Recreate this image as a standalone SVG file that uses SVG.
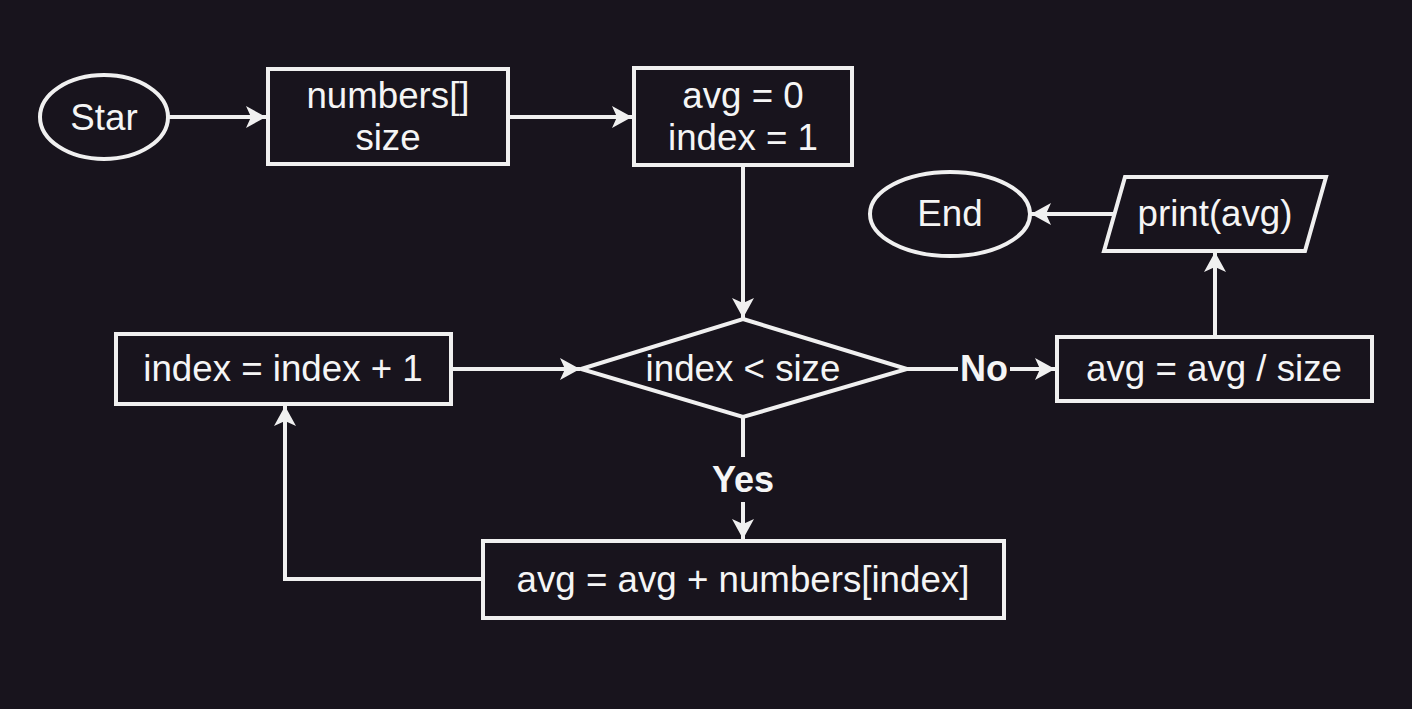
<svg xmlns="http://www.w3.org/2000/svg" width="1412" height="709" viewBox="0 0 1412 709">
<defs>
<marker id="arr" markerWidth="22" markerHeight="24" refX="20" refY="12" orient="auto" markerUnits="userSpaceOnUse">
<path d="M0,1 L20,12 L0,23 L5,12 Z" fill="#f0f0f0"/>
</marker>
<style>
.shape{fill:#18141d;stroke:#f0f0f0;stroke-width:4}
.edge{fill:none;stroke:#f0f0f0;stroke-width:4}
.t{font-family:"Liberation Sans",Arial,sans-serif;font-size:36.7px;fill:#f5f5f5;text-anchor:middle}
.b{font-weight:bold;font-size:36px}
</style>
</defs>
<rect width="1412" height="709" fill="#18141d"/>
<g id="connectors">
<path class="edge" d="M168,117 H266" marker-end="url(#arr)"/>
<path class="edge" d="M508,117 H632" marker-end="url(#arr)"/>
<path class="edge" d="M743,165 V318" marker-end="url(#arr)"/>
<path class="edge" d="M451,369 H580" marker-end="url(#arr)"/>
<path class="edge" d="M907,369 H958"/>
<path class="edge" d="M1010,369 H1055" marker-end="url(#arr)"/>
<path class="edge" d="M1215,337 V252" marker-end="url(#arr)"/>
<path class="edge" d="M1113,214 H1031" marker-end="url(#arr)"/>
<path class="edge" d="M743,417 V457"/>
<path class="edge" d="M743,502 V539" marker-end="url(#arr)"/>
<path class="edge" d="M483,579 H285 V406" marker-end="url(#arr)"/>
<text class="t b" x="984" y="381">No</text>
<text class="t b" x="743" y="492">Yes</text>
</g>
<g id="start">
<ellipse class="shape" cx="104" cy="117" rx="64" ry="42"/>
<text class="t" x="104" y="130">Star</text>
</g>
<g id="input">
<rect class="shape" x="268" y="69" width="240" height="95"/>
<text class="t" x="388" y="108">numbers[]</text>
<text class="t" x="388" y="150">size</text>
</g>
<g id="init">
<rect class="shape" x="634" y="68" width="218" height="97"/>
<text class="t" x="743" y="108">avg = 0</text>
<text class="t" x="743" y="150">index = 1</text>
</g>
<g id="cond">
<polygon class="shape" points="743,319 907,369 743,417 581,369"/>
<text class="t" x="743" y="381">index &lt; size</text>
</g>
<g id="incr">
<rect class="shape" x="116" y="334" width="335" height="70"/>
<text class="t" x="283" y="381">index = index + 1</text>
</g>
<g id="sum">
<rect class="shape" x="483" y="541" width="521" height="77"/>
<text class="t" x="743" y="592">avg = avg + numbers[index]</text>
</g>
<g id="divide">
<rect class="shape" x="1057" y="337" width="315" height="64"/>
<text class="t" x="1214" y="381">avg = avg / size</text>
</g>
<g id="print">
<polygon class="shape" points="1125,177 1326,177 1305,251 1104,251"/>
<text class="t" x="1215" y="226">print(avg)</text>
</g>
<g id="end">
<ellipse class="shape" cx="950" cy="214" rx="80" ry="42"/>
<text class="t" x="950" y="226">End</text>
</g>
</svg>
